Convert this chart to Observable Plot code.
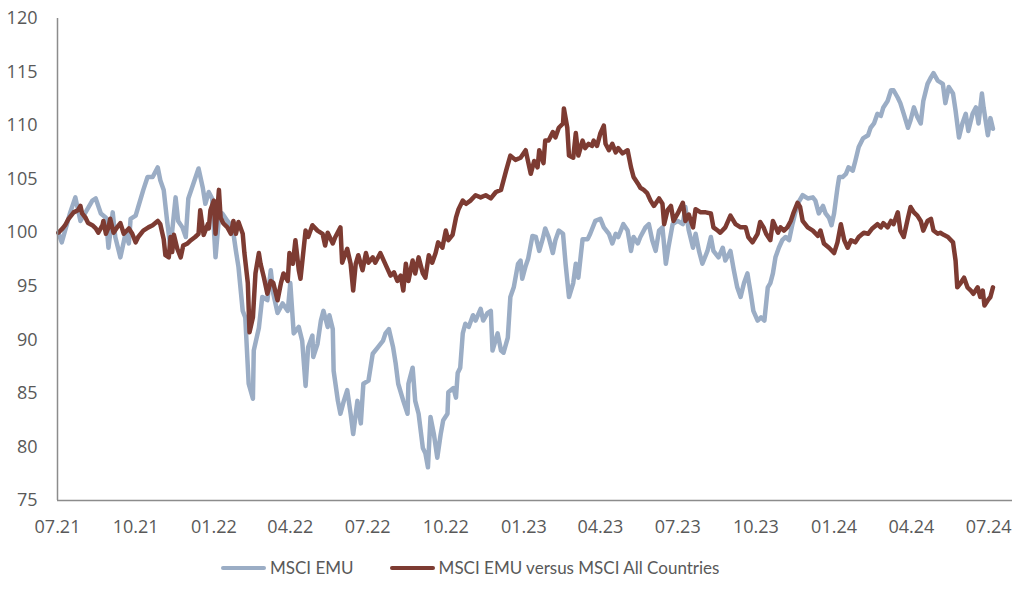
<!DOCTYPE html>
<html>
<head>
<meta charset="utf-8">
<script src="https://cdn.jsdelivr.net/npm/d3@7"></script>
<script src="https://cdn.jsdelivr.net/npm/@observablehq/plot@0.6"></script>
<style>
  body { margin: 0; background: #fff; }
  #legend { display: flex; align-items: center; padding-left: 221px; margin-top: 17px;
    font-family: Lato, sans-serif; font-size: 17px; color: #595959; }
  .item { display: flex; align-items: center; margin-right: 36px; }
  .sw { width: 45px; height: 4px; border-radius: 2px; margin-right: 4px; }
</style>
</head>
<body>
<div id="chart"></div>
<div id="legend"></div>
<script>
// Days since 1 July 2021
const startDate = new Date(2021, 6, 1);
const seriesNames = ["MSCI EMU", "MSCI EMU versus MSCI All Countries"];
const seriesColors = ["#9badc5", "#7d3b32"];
const xTickLabels = ["2021-07-01","2021-10-01","2022-01-01","2022-04-01","2022-07-01","2022-10-01","2023-01-01","2023-04-01","2023-07-01","2023-10-01","2024-01-01","2024-04-01","2024-07-01"];
const yTicks = [75, 80, 85, 90, 95, 100, 105, 110, 115, 120];

const emuDays = [1,5,15,21,27,33,41,45,51,57,60,65,68,74,80,84,86,92,95,101,106,112,118,121,125,129,133,139,142,147,151,154,160,166,171,174,178,182,186,190,194,200,206,210,213,218,221,225,230,231,237,241,247,251,254,259,265,271,274,278,284,288,292,295,300,301,306,310,313,318,320,324,325,330,333,337,341,345,348,353,357,360,366,371,377,383,386,390,395,398,401,407,412,413,418,421,425,430,433,436,439,443,447,451,454,459,460,466,469,471,474,477,480,484,489,492,498,501,506,510,512,518,522,525,530,533,537,542,545,547,551,554,559,563,567,571,574,578,583,586,590,595,598,602,607,610,613,618,624,627,633,639,643,649,653,657,660,666,671,675,678,683,686,692,696,700,704,708,712,716,719,724,730,736,739,743,748,751,755,759,765,769,772,778,783,786,792,796,800,804,808,812,816,819,824,828,832,836,839,842,845,849,853,857,861,865,871,877,883,889,892,896,901,904,908,911,914,918,920,924,928,931,936,939,943,948,954,957,961,965,969,972,977,981,984,989,992,996,1001,1004,1008,1012,1016,1019,1024,1028,1031,1036,1042,1045,1049,1054,1057,1061,1065,1069,1072,1077,1081,1084,1088,1090,1095,1098,1101];
const emuValues = [100,99.1,101.9,103.3,101.1,101.9,103,103.2,101.8,101.4,98.6,101.9,99.6,97.7,99.9,99,101.3,101.6,102.4,104,105.2,105.2,106.1,104.9,104,101.1,98.6,103.3,101.1,100.5,99.6,103.2,104.6,106,104.2,102.7,103.8,103.2,97.7,101.4,101.8,101.1,100.5,98.3,96.8,92.7,92.1,85.9,84.5,89,91.1,94,93.7,96.5,94.3,92.5,93.4,92.7,95.3,90.6,91.2,89.9,85.7,89.3,90.4,88.4,89.6,91.8,92.7,91.2,92.3,91,87.1,84.3,83.1,84.3,85.3,83.1,81.2,84.3,82.2,85.9,86.2,88.7,89.3,89.9,90.6,91,89.3,87.8,85.9,84.3,83.1,85.9,87.4,84.3,83.1,79.9,79.4,78.1,82.8,81.2,79,81.2,82.5,83.1,85.1,85.5,84.6,86.9,87.4,90.6,91.5,91.2,92.3,91.8,92.9,91.8,92.5,92.7,89,90.6,89,88.8,90.2,94,94.9,97.1,97.4,95.7,96.9,97.6,99.7,99.6,98.3,99.4,100.4,99.6,98.1,99.3,100.2,99.9,97.1,94,95.3,97.1,95.8,99.4,99.4,99.9,101.1,101.3,100.5,99.9,99,99.9,99.6,100.8,100.2,98.3,99.6,99,99.6,100.5,100.8,99.3,98.3,100.2,100.5,97.1,98.6,100.8,101.1,100.8,102.4,100.2,98.6,99.9,98.3,97.1,98.3,99.6,98.3,97.7,98.6,97.4,98.3,96.5,94.9,94,95.3,96.2,94.3,92.7,91.8,92.1,91.8,94.9,95.3,96.2,97.7,98.6,99.3,99.6,99.3,100.8,102.7,103.5,103.2,103.3,103,101.8,102.5,101.8,101.4,100.7,101.8,104.2,105.2,105.2,105.5,106.1,105.8,106.7,108,108.8,109.1,109.8,110.2,111.1,110.9,111.7,112.3,113.3,113.3,112.6,112.1,111.1,109.8,110.5,111.7,110.8,110.2,112.3,113.9,114.5,114.9,114.2,113.9,112.1,113.6,113,111.4,108.9,110.2,111.1,109.5,111.1,111.7,110.2,113,111.7,109.1,110.7,109.7];

const relDays = [1,6,9,13,19,24,27,29,33,36,41,45,48,53,54,57,60,62,66,71,74,78,84,88,92,95,101,107,112,118,121,125,127,131,133,135,137,141,145,148,153,157,162,166,168,172,177,178,180,184,186,190,192,195,200,204,207,210,213,218,220,224,226,230,233,237,239,243,247,251,254,259,263,266,271,273,277,280,284,286,292,295,300,306,312,315,318,324,327,333,335,341,345,348,351,354,359,363,366,371,374,380,384,388,392,396,400,404,407,410,413,418,421,425,430,433,437,441,445,448,453,457,460,465,469,472,477,481,486,492,498,504,510,516,522,528,533,539,545,551,557,561,565,567,572,574,578,583,586,590,595,596,600,602,607,610,613,618,621,625,629,631,635,639,643,645,649,653,657,660,665,671,675,678,683,686,690,694,698,702,708,712,714,718,722,725,730,736,739,743,748,751,757,763,769,772,777,780,786,792,798,804,810,813,818,824,827,831,834,839,842,848,851,855,859,863,866,871,874,877,883,889,895,898,902,908,914,918,922,926,930,934,939,943,949,954,959,965,969,972,977,981,984,989,992,996,1001,1004,1008,1012,1016,1019,1024,1028,1031,1036,1039,1043,1048,1054,1057,1059,1063,1067,1071,1075,1078,1083,1086,1089,1091,1095,1098,1101];
const relValues = [100,100.4,100.7,101.3,101.9,102.1,102.5,101.8,101.4,100.9,100.7,100.4,100,100.7,101.1,99.9,100.5,101.3,100,100.6,100.9,99.9,100.4,99.9,99.1,99.6,100.2,100.5,100.7,101.1,100.8,99.4,97.9,97.7,99.6,98.2,99.8,98.5,97.7,98.8,99,99.3,99.6,99.9,102.1,99.8,100.8,100.4,102.1,103,99.9,104,101.4,100.9,100.5,99.9,101.1,99.9,101,99.9,98.1,95.3,90.7,92.1,96.2,98.1,97.1,95.8,94.3,95.5,95.3,93.7,95.3,96.2,95.5,98.1,97.1,99.3,96.5,95.7,100.2,99.6,100.7,100.2,99.9,98.8,100,99,99.6,100.5,97.2,98.5,97.1,94.6,97.1,97.9,96.5,98.1,97.2,97.7,97.2,98.1,97.4,96.7,96,96.3,95.5,96,94.6,97.1,95.5,97.4,96.2,97.7,96.2,95.8,97.9,97.2,98.1,99.1,98.6,100.2,99.3,99.8,101.4,102.2,103,102.7,103,103.5,103.3,103.5,103.2,103.8,104,105.8,107.2,106.8,107,107.7,105.5,106.7,106.1,107.7,106.5,108.6,108.6,109.4,108.9,109.8,110.2,111.6,109.8,107.2,107,109.3,107.2,108.6,107.9,108.3,108.1,108.6,108.1,109.3,110,108.3,107.7,108.3,107.5,107.9,107.4,107.7,106.1,105.2,104.6,104.2,104,103.7,103,102.5,103.2,102.7,100.8,102.1,102.5,101.1,101.8,102.8,101.1,101.7,100.5,102.2,101.9,101.9,101.8,100.5,100.2,100,100.5,101.6,100.8,100.5,100.5,99.6,99.1,99.9,101,100.5,99.9,99.3,101.1,100,100.5,100.2,100.5,101.1,101.8,102.8,102.4,101.1,100.5,100.2,99.7,100.2,99,98.6,98.1,99.1,100.8,99.3,98.6,99.3,99.1,99.6,100,99.9,100.4,100.8,100.5,100.9,100.5,101.1,100.8,101.9,100.2,99.6,101.4,102.4,101.9,101.6,101.1,100.2,101.1,101.3,100.2,99.9,100,99.8,99.6,99.1,97.4,94.9,95.3,95.8,94.9,94.6,94.3,94.9,94,94.6,93.2,93.7,94,94.9];

const toDate = d => d3.timeDay.offset(startDate, d);
const emuData = emuDays.map((d, i) => ({date: toDate(d), value: emuValues[i], series: seriesNames[0]}));
const relData = relDays.map((d, i) => ({date: toDate(d), value: relValues[i], series: seriesNames[1]}));
const xTicks = xTickLabels.map(s => d3.isoParse(s));
const xDomain = [startDate, new Date(2024, 6, 29)];

const chart = Plot.plot({
  width: 1024,
  height: 540,
  marginLeft: 57,
  marginRight: 12,
  marginTop: 18,
  marginBottom: 40,
  style: {fontFamily: "'Open Sans', sans-serif", fontSize: "18px", color: "#595959", background: "#fff"},
  x: {type: "time", domain: xDomain},
  y: {domain: [75, 120]},
  color: {domain: seriesNames, range: seriesColors},
  marks: [
    Plot.axisY({ticks: yTicks, tickSize: 0, tickPadding: 20, label: null, fill: "#595959", fontSize: 18}),
    Plot.axisX({ticks: xTicks, tickFormat: d3.timeFormat("%m.%y"), tickSize: 0, tickPadding: 20, label: null, fill: "#595959", fontSize: 18}),
    Plot.line(emuData, {x: "date", y: "value", stroke: "series", strokeWidth: 4.5, strokeLinejoin: "round"}),
    Plot.line(relData, {x: "date", y: "value", stroke: "series", strokeWidth: 4.5, strokeLinejoin: "round"}),
    Plot.ruleY([75], {stroke: "#8c8c8c", strokeWidth: 1.5}),
    Plot.ruleX([xDomain[0]], {stroke: "#8c8c8c", strokeWidth: 1.5})
  ]
});
document.getElementById("chart").appendChild(chart);

const legend = document.getElementById("legend");
seriesNames.forEach((name, i) => {
  const item = document.createElement("div");
  item.className = "item";
  const sw = document.createElement("div");
  sw.className = "sw";
  sw.style.background = seriesColors[i];
  const label = document.createElement("span");
  label.textContent = name;
  item.appendChild(sw);
  item.appendChild(label);
  legend.appendChild(item);
});
</script>
</body>
</html>
